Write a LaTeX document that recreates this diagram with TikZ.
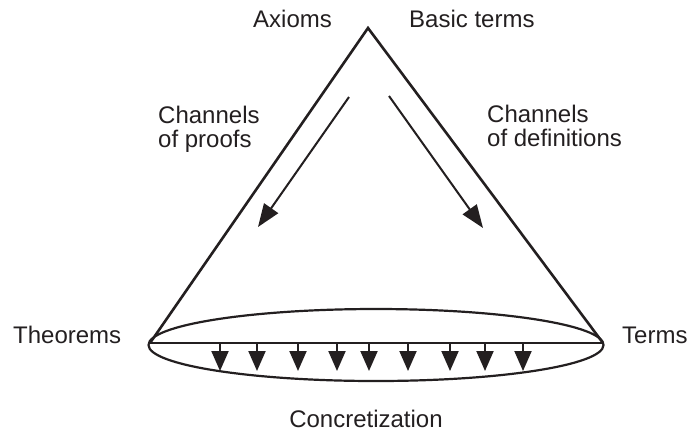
\documentclass[tikz,border=0pt]{standalone}
\usepackage{fontspec}
\setmainfont{Liberation Sans}
\usetikzlibrary{arrows.meta,shapes.geometric}
\definecolor{ink}{HTML}{231F20}
\begin{document}
\begin{tikzpicture}[x=1pt,y=-1pt,
  lbl/.style={font=\fontsize{24}{24}\selectfont,text=ink,inner sep=0pt},
  edge/.style={draw=ink,line width=2.6pt,line join=miter},
  chan/.style={draw=ink,line width=2pt,-{Triangle[length=23pt,width=17pt]}},
  drop/.style={draw=ink,line width=2pt,-{Triangle[length=20pt,width=17pt]}}]
\useasboundingbox (0,0) rectangle (692,432);
\coordinate (apex) at (368,28);
\coordinate (bl) at (150,343);
\coordinate (br) at (603,343);
\draw[edge] (bl) -- (apex) -- (br);
\node[draw=ink,line width=2.2pt,ellipse,minimum width=455pt,minimum height=72pt,inner sep=0pt] (base) at (376,345) {};
\draw[edge,line width=2.4pt] (bl) -- (br);
\coordinate (ls) at (349,97);
\coordinate (le) at (258,227);
\coordinate (rs) at (389,96);
\coordinate (re) at (483,228);
\draw[chan] (ls) -- (le);
\draw[chan] (rs) -- (re);
\foreach \i/\x in {1/220,2/257,3/298,4/337,5/369,6/408,7/450,8/485,9/523}{
  \coordinate (t\i) at (\x,343);
  \coordinate (h\i) at (\x,371);
  \draw[drop] (t\i) -- (h\i);
}
\node[lbl,anchor=base] (axioms) at (292.5,27) {Axioms};
\node[lbl,anchor=base west] (basic) at (409,27) {Basic terms};
\node[lbl,anchor=base west,align=left] (proofs) at (158,147) {Channels\\[-0.5pt]of proofs};
\node[lbl,anchor=base west,align=left] (defs) at (487,146) {Channels\\[-0.5pt]of definitions};
\node[lbl,anchor=base west] (theorems) at (13,343) {Theorems};
\node[lbl,anchor=base west] (terms) at (622,343) {Terms};
\node[lbl,anchor=base] (concr) at (366,427) {Concretization};
\end{tikzpicture}
\end{document}
